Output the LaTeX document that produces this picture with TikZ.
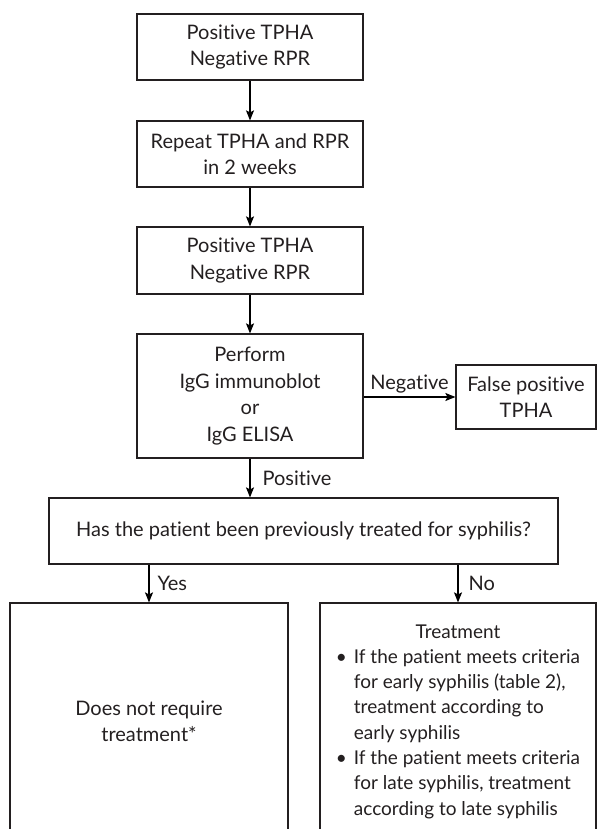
\documentclass[tikz,border=0pt]{standalone}
\usepackage{fontspec}
\setmainfont[RawFeature={-liga}]{Lato}
\usetikzlibrary{arrows.meta}
\definecolor{ink}{HTML}{231F20}
\tikzset{
  box/.style={draw=ink, line width=1.2pt, rectangle, align=center, inner sep=2pt,
    font=\fontsize{20}{26.5}\selectfont, text=ink},
  conn/.style={draw=black, line width=1.2pt, -{Stealth[length=10pt,width=8pt,inset=2pt]}},
  lbl/.style={font=\fontsize{20}{26.5}\selectfont, text=ink, inner sep=0pt},
}
\begin{document}
\begin{tikzpicture}[x=1pt,y=-1pt]
\useasboundingbox (0,0) rectangle (597,829);
\clip (0,0) rectangle (597,829);
\node[box, minimum width=226pt, minimum height=66pt] (b1) at (250,47) {Positive TPHA\\Negative RPR};
\node[box, minimum width=226pt, minimum height=66pt] (b2) at (250,154) {Repeat TPHA and RPR\\in 2 weeks};
\node[box, minimum width=226pt, minimum height=67pt] (b3) at (250,260.5) {Positive TPHA\\Negative RPR};
\node[box, minimum width=226pt, minimum height=124pt] (b4) at (250,396) {Perform\\IgG immunoblot\\or\\IgG ELISA};
\node[box, minimum width=140pt, minimum height=64pt] (fp) at (526,397) {False positive\\TPHA};
\node[box, minimum width=509pt, minimum height=66pt] (q) at (303.5,531) {Has the patient been previously treated for syphilis?};
\node[box, minimum width=278pt, minimum height=237pt] (bl) at (149,721.5) {Does not require\\treatment*};
\node[box, minimum width=276pt, minimum height=237pt, font=\fontsize{19}{25.3}\selectfont] (br) at (458,721.5) {%
\begin{tabular}{@{}l@{\hspace{7pt}}l@{}}
\multicolumn{2}{c}{Treatment}\\
\textbullet & If the patient meets criteria\\
 & for early syphilis (table 2),\\
 & treatment according to\\
 & early syphilis\\
\textbullet & If the patient meets criteria\\
 & for late syphilis, treatment\\
 & according to late syphilis
\end{tabular}};
\draw[conn] (b1) -- (b2);
\draw[conn] (b2) -- (b3);
\draw[conn] (b3) -- (b4);
\draw[conn] (fp.west -| b4.east) -- node[lbl, above=3pt] (lneg) {Negative} (fp.west);
\draw[conn] (b4.south) -- node[lbl, right=12pt] (lpos) {Positive} (b4.south |- q.north);
\draw[conn] (bl.north |- q.south) -- node[lbl, right=8pt] (lyes) {Yes} (bl.north);
\draw[conn] (br.north |- q.south) -- node[lbl, right=10pt] (lno) {No} (br.north);
\end{tikzpicture}
\end{document}
